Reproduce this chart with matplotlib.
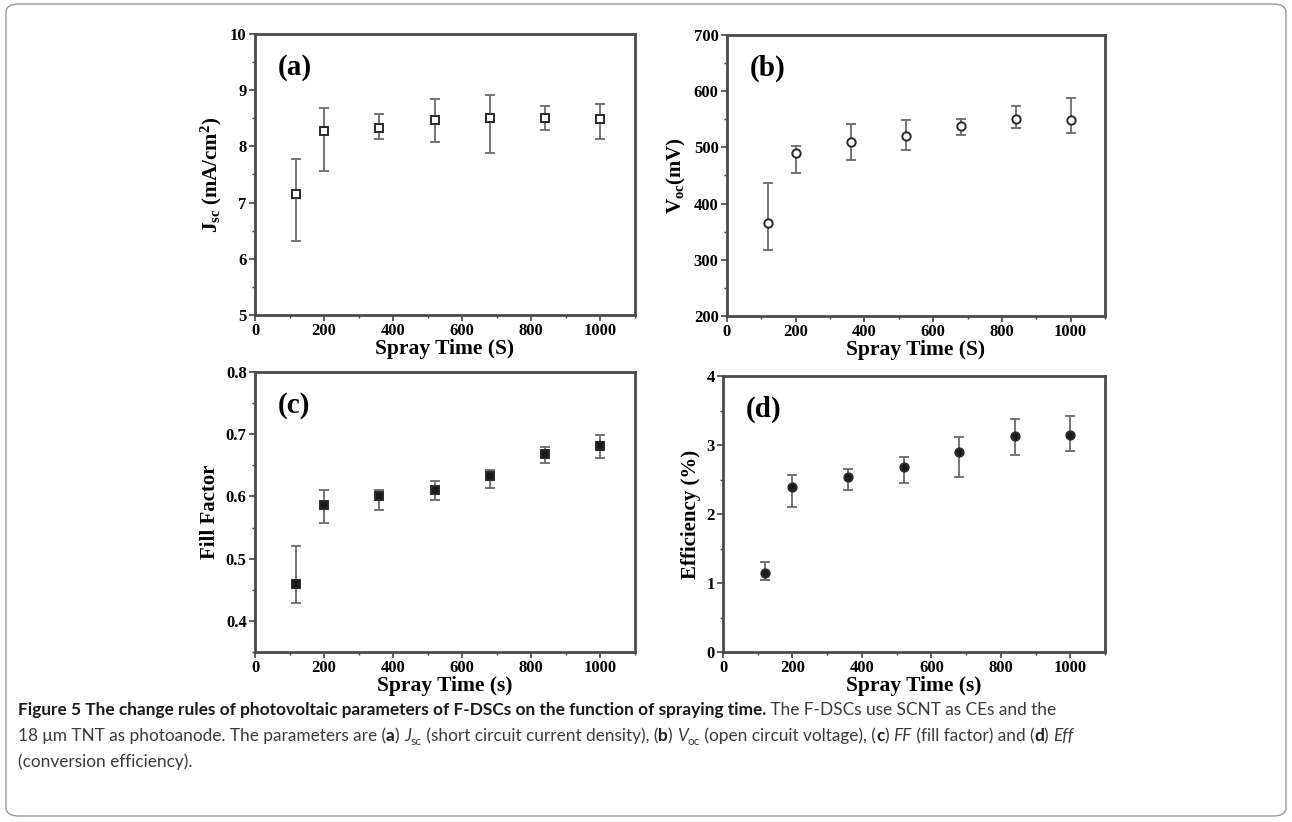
import numpy as np
import matplotlib
matplotlib.use("Agg")
import matplotlib.pyplot as plt
from matplotlib.patches import FancyBboxPatch
from matplotlib.ticker import MultipleLocator
from matplotlib import font_manager

# spray times (s)
spray_t = [120, 200, 360, 520, 680, 840, 1000]

# (a) Jsc, mA/cm2
jsc = [7.15, 8.27, 8.32, 8.47, 8.51, 8.50, 8.48]
jsc_hi = [7.77, 8.68, 8.57, 8.84, 8.91, 8.72, 8.75]
jsc_lo = [6.32, 7.56, 8.13, 8.08, 7.89, 8.29, 8.13]

# (b) Voc, mV
voc = [366, 490, 510, 520, 538, 551, 548]
voc_hi = [437, 503, 542, 548, 551, 574, 588]
voc_lo = [317, 455, 477, 496, 522, 534, 525]

# (c) fill factor
ff = [0.459, 0.586, 0.600, 0.611, 0.633, 0.668, 0.681]
ff_hi = [0.520, 0.611, 0.611, 0.625, 0.643, 0.680, 0.698]
ff_lo = [0.428, 0.558, 0.579, 0.594, 0.613, 0.653, 0.661]

# (d) efficiency, %
eff = [1.15, 2.39, 2.53, 2.68, 2.90, 3.13, 3.15]
eff_hi = [1.30, 2.56, 2.65, 2.82, 3.11, 3.38, 3.42]
eff_lo = [1.04, 2.10, 2.35, 2.45, 2.54, 2.86, 2.92]

W, H = 1292, 822
serif = "Liberation Serif"
plt.rcParams['mathtext.fontset'] = 'custom'
plt.rcParams['mathtext.rm'] = serif + ':bold'
plt.rcParams['mathtext.bf'] = serif + ':bold'
plt.rcParams['mathtext.it'] = serif + ':italic:bold'

fig = plt.figure(figsize=(W/100, H/100), dpi=100)

def px_axes(l, t, r, b):
    return fig.add_axes([l/W, 1-b/H, (r-l)/W, (b-t)/H])

def panel(ax, y, hi, lo, marker, filled, ylim, major, minor, ylabel, xlabel, tag):
    y = np.array(y)
    err = [y-np.array(lo), np.array(hi)-y]
    ax.errorbar(spray_t, y, yerr=err, fmt='none', ecolor='#6a6a6a', elinewidth=1.3, capsize=3.5, capthick=1.3)
    fc = '#1a1a1a' if filled else 'white'
    ax.plot(spray_t, y, linestyle='none', marker=marker, ms=6, mfc=fc, mec='#2a2a2a', mew=1.4, zorder=3)
    ax.set_xlim(0, 1100)
    ax.set_ylim(*ylim)
    ax.xaxis.set_major_locator(MultipleLocator(200))
    ax.xaxis.set_minor_locator(MultipleLocator(100))
    ax.yaxis.set_major_locator(MultipleLocator(major))
    ax.yaxis.set_minor_locator(MultipleLocator(minor))
    ax.tick_params(which='both', direction='out', top=False, right=False, colors='#444444',
                   labelcolor='black', labelsize=12)
    ax.tick_params(which='major', length=4, width=1.2, pad=2)
    ax.tick_params(which='minor', length=2.5, width=1.0)
    for lab in ax.get_xticklabels() + ax.get_yticklabels():
        lab.set_fontfamily(serif)
        lab.set_fontweight('bold')
    for s in ax.spines.values():
        s.set_linewidth(2.0)
        s.set_color('#4a4a4a')
    ax.set_ylabel(ylabel, fontsize=15, fontweight='bold', family=serif, labelpad=4)
    ax.set_xlabel(xlabel, fontsize=15.5, fontweight='bold', family=serif, labelpad=0)
    ax.text(0.06, 0.93, tag, transform=ax.transAxes, fontsize=21, fontweight='bold',
            family=serif, va='top', ha='left')

ax_a = px_axes(255, 34, 635, 315)
panel(ax_a, jsc, jsc_hi, jsc_lo, 's', False, (5, 10), 1, 0.5,
      r'$\mathbf{J_{sc}}$ (mA/cm$^\mathbf{2}$)', 'Spray Time (S)', '(a)')
ax_b = px_axes(727, 35, 1105, 316)
panel(ax_b, voc, voc_hi, voc_lo, 'o', False, (200, 700), 100, 50,
      r'$\mathbf{V_{oc}}$(mV)', 'Spray Time (S)', '(b)')
ax_c = px_axes(255, 372, 635, 652)
panel(ax_c, ff, ff_hi, ff_lo, 's', True, (0.35, 0.8), 0.1, 0.05,
      'Fill Factor', 'Spray Time (s)', '(c)')
ax_d = px_axes(723, 376, 1105, 652)
panel(ax_d, eff, eff_hi, eff_lo, 'o', True, (0, 4), 1, 0.5,
      'Efficiency (%)', 'Spray Time (s)', '(d)')

# frame round the figure
frame = FancyBboxPatch((6/W, 6/H), (W-12)/W, (H-10)/H, boxstyle="round,pad=0,rounding_size=0.01",
                       transform=fig.transFigure, fill=False, ec='#9a9a9a', lw=1.0)
fig.patches.append(frame)

# caption font: a narrow sans if there is one
names = {f.name for f in font_manager.fontManager.ttflist}
cap = "Liberation Sans Narrow" if "Liberation Sans Narrow" in names else "Lato"

lines = [
    (710, [("Figure 5 The change rules of photovoltaic parameters of F-DSCs on the function of spraying time.", 'b', 0),
           (" The F-DSCs use SCNT as CEs and the", 'r', 0)]),
    (736, [("18 \u03bcm TNT as photoanode. The parameters are (", 'r', 0), ("a", 'b', 0), (") ", 'r', 0),
           ("J", 'i', 0), ("sc", 's', 4), (" (short circuit current density), (", 'r', 0), ("b", 'b', 0),
           (") ", 'r', 0), ("V", 'i', 0), ("oc", 's', 4), (" (open circuit voltage), (", 'r', 0),
           ("c", 'b', 0), (") ", 'r', 0), ("FF", 'i', 0), (" (fill factor) and (", 'r', 0),
           ("d", 'b', 0), (") ", 'r', 0), ("Eff", 'i', 0)]),
    (762, [("(conversion efficiency).", 'r', 0)]),
]

def style(k, fs):
    if k == 'b':
        return dict(family=cap, fontsize=fs, color='#1a1a1a', fontweight='bold')
    if k == 'i':
        return dict(family=cap, fontsize=fs, color='#3a3a3a', style='italic')
    if k == 's':
        return dict(family=cap, fontsize=fs*0.7, color='#3a3a3a')
    return dict(family=cap, fontsize=fs, color='#3a3a3a')

fig.canvas.draw()
rend = fig.canvas.get_renderer()

# size the caption so that the first line spans about the same width as in the figure
fs0 = 10.0
w0 = 0
for txt, k, dy in lines[0][1]:
    t = fig.text(0, 0, txt, **style(k, fs0))
    w0 += t.get_window_extent(rend).width
    t.remove()
fs = min(fs0 * 1228 / w0, 12.4)

for ypix, runs in lines:
    x = 18
    for txt, k, dy in runs:
        t = fig.text(x/W, 1-(ypix+5+dy)/H, txt, va='baseline', **style(k, fs))
        x += t.get_window_extent(rend).width

fig.savefig("out.png", dpi=100)
